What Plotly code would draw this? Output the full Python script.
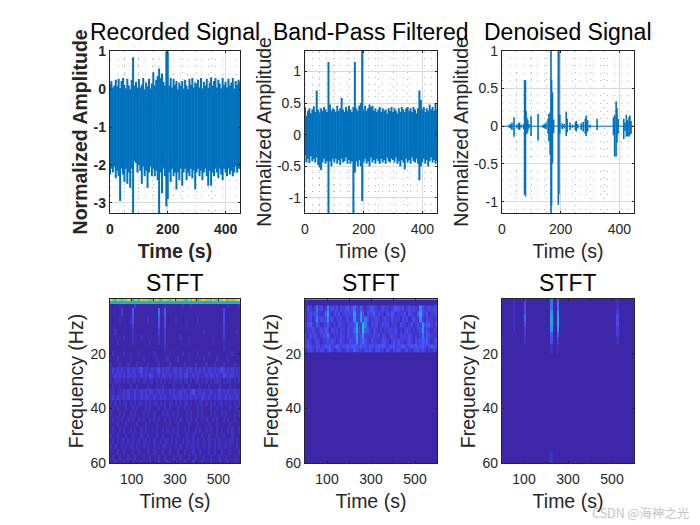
import plotly.graph_objects as go

# sampled envelope of the time signals, one value every 5 s
time_s = [0, 5, 10, 15, 20, 25, 30, 35, 40, 45,
          50, 55, 60, 65, 70, 75, 80, 85, 90, 95,
          100, 105, 110, 115, 120, 125, 130, 135, 140, 145,
          150, 155, 160, 165, 170, 175, 180, 185, 190, 195,
          200, 205, 210, 215, 220, 225, 230, 235, 240, 245,
          250, 255, 260, 265, 270, 275, 280, 285, 290, 295,
          300, 305, 310, 315, 320, 325, 330, 335, 340, 345,
          350, 355, 360, 365, 370, 375, 380, 385, 390, 395,
          400, 405, 410, 415, 420, 425, 430, 435, 440, 445, 450]

recorded_hi = [.15, .22, .05, .1, .25, .08, .28, .03, .22, .3,
               .12, .02, .28, .1, .0, .25, .85, .1, .2, .05,
               .27, .05, .12, .3, .0, .18, .08, .28, .02, .15,
               .45, .1, .25, .35, .55, .3, .42, .2, .1, 1.0,
               1.0, .1, .3, .05, .28, .12, .22, .0, .18, .1,
               .22, .02, .25, .1, .0, .28, .12, .3, .05, .18,
               .15, .25, .05, .3, .02, .2, .1, .28, .04, .18,
               .32, .1, .22, .3, .05, .25, .15, .02, .3, .12,
               .2, .05, .28, .1, .18, .3, .02, .22, .12, .25, .2]
recorded_lo = [-2.25, -2.1, -2.2, -2.05, -2.35, -2.15, -2.3, -2.95, -2.1, -2.25,
               -2.45, -2.1, -2.5, -2.2, -2.6, -2.1, -3.27, -1.9, -1.95, -2.2,
               -2.0, -2.15, -2.5, -2.05, -2.3, -2.15, -2.6, -2.2, -2.05, -2.3,
               -2.1, -2.3, -2.15, -2.4, -3.27, -2.2, -2.75, -2.1, -2.3, -3.1,
               -2.9, -2.2, -2.45, -2.1, -2.3, -2.2, -2.65, -2.2, -2.4, -2.1,
               -2.55, -2.2, -2.1, -2.4, -2.2, -2.3, -2.1, -2.35, -2.15, -2.65,
               -2.2, -2.1, -2.3, -2.15, -2.4, -2.2, -2.1, -2.3, -2.55, -2.15,
               -2.55, -2.2, -2.3, -2.1, -2.2, -2.35, -2.1, -2.25, -2.4, -2.1,
               -2.2, -2.3, -2.1, -2.25, -2.15, -2.3, -2.2, -2.05, -2.2, -2.1, -2.1]

bandpass_hi = [.44, .3, .38, .42, .34, .4, .45, .36, .7, .4,
               .35, .42, .38, .44, .4, .36, 1.15, .48, .38, .42,
               .4, .36, .46, .38, .42, .58, .4, .36, .44, .38,
               .46, .4, .36, .44, 1.15, .42, .38, .46, .5, 1.33,
               .4, .46, .38, .42, .48, .44, .46, .38, .42, .36,
               .4, .44, .36, .42, .38, .4, .34, .42, .38, .44,
               .36, .42, .38, .34, .42, .36, .44, .4, .36, .42,
               .44, .38, .42, .36, .44, .4, .34, .42, .7, .55,
               .4, .44, .36, .42, .38, .48, .4, .44, .38, .5, .4]
bandpass_lo = [-.33, -.44, -.38, -.45, -.34, -.42, -.38, -.44, -.36, -.48,
               -.52, -.56, -.44, -.38, -.46, -.42, -1.24, -.42, -.5, -.38,
               -.44, -.38, -.46, -.4, -.48, -.38, -.44, -.42, -.36, -.46,
               -.4, -.46, -.42, -1.24, -.6, -.42, -.5, -.4, -.5, -1.05,
               -.44, -.38, -.46, -.42, -.5, -.36, -.44, -.4, -.46, -.38,
               -.42, -.46, -.38, -.44, -.4, -.46, -.36, -.42, -.44, -.38,
               -.4, -.44, -.36, -.46, -.42, -.5, -.4, -.44, -.55, -.38,
               -.44, -.4, -.46, -.36, -.42, -.44, -.38, -.46, -.72, -.5,
               -.44, -.38, -.46, -.4, -.5, -.42, -.36, -.44, -.4, -.46, -.42]

# denoised signal is mostly flat, so only the bursts are listed
denoised_t = [0, 25, 30, 34, 41, 50, 56, 60, 66, 74, 77, 80, 82, 85, 88, 92, 99, 123,
              140, 145, 150, 157, 160, 164, 167, 169, 172, 176, 192, 194, 197, 205,
              212, 219, 222, 232, 240, 250, 253, 258, 270, 277, 284, 287, 292, 300,
              324, 380, 384, 389, 392, 396, 415, 419, 424, 428, 433, 436, 440, 450]
denoised_hi = [0, .02, .03, .05, .12, .02, .04, .05, .02, .03, .61, .61, .2, .11, .08, .03, .13, .16,
               .02, .03, .05, .1, .16, .18, 1.0, .62, .45, .09, 1.0, 1.0, .15, .04,
               .03, .19, .1, .05, .02, .05, .07, .03, .04, .06, .1, .14, .08, .02,
               .1, .12, .15, .33, .24, .1, .1, .05, .15, .08, .12, .14, .07, 0]
denoised_lo = [0, -.02, -.03, -.05, -.14, -.02, -.04, -.05, -.02, -.04, -.9, -.93, -.1, -.1, -.07, -.03, -.13, -.19,
               -.02, -.03, -.04, -.1, -.2, -.38, -1.15, -1.05, -.49, -.09, -1.04, -.9, -.1, -.04,
               -.03, -.13, -.08, -.05, -.02, -.05, -.07, -.03, -.05, -.07, -.1, -.13, -.07, -.02,
               -.05, -.12, -.4, -.4, -.22, -.1, -.17, -.06, -.14, -.13, -.14, -.12, -.1, 0]

# STFT magnitudes, one character per cell (base 36), columns are 10 s wide
stft_t = [5, 15, 25, 35, 45, 55, 65, 75, 85, 95, 105, 115, 125, 135, 145,
          155, 165, 175, 185, 195, 205, 215, 225, 235, 245, 255, 265, 275, 285, 295,
          305, 315, 325, 335, 345, 355, 365, 375, 385, 395, 405, 415, 425, 435, 445,
          455, 465, 475, 485, 495, 505, 515, 525, 535, 545, 555, 565, 575, 585, 595]
stft_f = [0.45, 1.35, 2.35, 4.5, 8, 10, 12, 14, 16, 18, 20, 22, 24, 26, 28, 30, 32, 34, 36, 38,
          40, 42, 44, 46, 48, 50, 52, 54, 56, 58, 60]

recorded_stft = [
    "pjfqkhlkrmgjlfqkpkhjmqjflpkhjsklpkgfojqkhjprlkgqkjplskhojmqr",
    "cbcbcdcbcbccbcccbcbcdcbcbcccbccbcccbcbcbcbccbcccbcbcbcbccbcc",
    "000010000002000000000000010000000100010000000000000000100001",
    "000002000040000000000050040000000000000000000000000030000000",
    "000010000130000001000040030000100000000010000000000030000000",
    "000000000020000000000030030000000001000000000000000020000000",
    "001000000010000000000020020000000000000000010000000020000010",
    "000000100010001000000010020000001000000000000000000020000000",
    "000100000010000000100010020000000000100000000001000010000000",
    "000000000000000000000000010000000000000000000000000010000000",
    "010000100000010000001000000100000100000010000100000000001000",
    "000100000100000100000100001000010000100000010000010000100000",
    "100010001000100001000010000100000010000100001000100010000100",
    "121212112122123121121231212112212112121212121221212321212121",
    "112121212212112121321121221211212123112121112122121132122111",
    "101110101011010110110101010101101011010110101010111010110101",
    "010010000100100001000100100001000100100001000100001000010000",
    "110111212112112121221121211212112121123112121121112121211211",
    "121211212112112122112112121112212112121211221211212112121121",
    "101010110101011010101101010110101011010101101010101101010101",
    "010100010010100010100010010100010010100010100010010100010010",
    "100010100101000101001000101001010001010010100010100101000101",
    "010101001010010100101010010100101001010100101001010010100100",
    "000100010000100010000100000100010000100010000100010000010000",
    "010010100101001010010100101001010010100101001010010100101001",
    "100100010010001001000100100010010001001000100100010010001000",
    "010101101010010110101001011010100101101010010110101001011010",
    "101001010110100101001010110100101001011010010100101011010010",
    "000100100010010001001000100100010010001001000100100100010001",
    "010010001001000100100010010001001000100100010010001001000100",
    "001000100010001000100010001000100010001000100010001000100010",
]

bandpass_stft = [
    "000000000000000000000000000000000000000000000000000000000000",
    "132125231262323132342352242123432123221234323123232163223233",
    "123234212492132312323292274132342322132431222313221 4a3231223".replace(" ", ""),
    "123126232372312231231262283531223212321322213231232172132212",
    "234214212242121322123 23b22e6213".replace(" ", "") + "23123231222132212312" + "3283442132",
    "122321232431323132132 24a32f4321".replace(" ", "") + "32121223223121232121" + "2372321221",
    "213232123352122132132237237222232313212322132323212125243212",
    "232123212232321232123328235321322123321232322123213234342123",
    "343223323434234323343443343323423434323342334323434334323433",
    "123213232134212321232243221323213322132132321232123323212132",
    "000000000000000000000000000000000000000000000000000000000000",
    "000000000000000000000000000000000000000000000000000000000000",
]
bandpass_f = [1.25, 3.5, 5.5, 7.5, 9.5, 11.5, 13.5, 15.5, 17.5, 18.5, 20.5, 60]

denoised_stft = [
    "000001000030000000000050050000000000000000000000000010000000",
    "000001000030000000000050050000000000000000000000000010000000",
    "000001000030000000000070070000000000000000000000000020000000",
    "000001000050000000000090090000000000000000000000000030000000",
    "000001000030000000000090090000000000000000000000000030000000",
    "000001000020000000000070070000000000000000000000000020000000",
    "000000000020000000000040040000000000000000000000000020000000",
    "000000000010000000000030020000000000000000000000000010000000",
    "000000000000000000000010010000000000000000000000000000000000",
    "000000000000000000000000000000000000000000000000000000000000",
    "000000000000000000000000000000000000000000000000000000000000",
    "000000000000000000000010000000000000000000000000000000000000",
]
denoised_f = [1, 3, 5, 7, 9, 11, 13, 15, 18, 22, 52, 60]

stft_ticks = [100, 200, 300, 400, 500]
stft_tick_text = ["100", "", "300", "", "500"]
freq_ticks = [20, 40, 60]
y_ticks = [[-3, -2, -1, 0, 1], [-1, -0.5, 0, 0.5, 1], [-1, -0.5, 0, 0.5, 1]]
y_tick_text = [["-3", "-2", "-1", "0", "1"], ["-1", "-0.5", "0", "0.5", "1"], ["-1", "-0.5", "0", "0.5", "1"]]

titles = ["Recorded Signal", "Band-Pass Filtered", "Denoised Signal", "STFT", "STFT", "STFT"]

FONT = "Liberation Sans"
BLUE = "#0072BD"
INK = "#262626"
parula = [[0, "#3E26A8"], [.1, "#4748F0"], [.2, "#2F85F5"], [.3, "#1FA8E0"], [.4, "#0FBAC8"],
          [.5, "#2BC2A0"], [.6, "#74C978"], [.7, "#BABF55"], [.8, "#F0B93A"], [.9, "#FCD22E"],
          [1, "#F9FB15"]]

# axes boxes, in pixels of the 700x525 page
left = [[110, 240], [305, 437], [502, 634]]
top_row = [1 - 213 / 525, 1 - 50.7 / 525]
bottom_row = [1 - 463 / 525, 1 - 299 / 525]


def spikes(t, hi, lo):
    xs, ys = [], []
    for a, b, c in zip(t, hi, lo):
        xs += [a, a, None]
        ys += [b, c, None]
    return xs, ys


def digits(rows):
    return [[int(c, 36) for c in r] for r in rows]


fig = go.Figure()

signals = [(time_s, recorded_hi, recorded_lo), (time_s, bandpass_hi, bandpass_lo),
           (denoised_t, denoised_hi, denoised_lo)]
widths = [2, 2, 1.6]
for i, (t, hi, lo) in enumerate(signals):
    xs, ys = spikes(t, hi, lo)
    fig.add_trace(go.Scatter(x=xs, y=ys, mode="lines", line=dict(color=BLUE, width=widths[i]),
                             xaxis=f"x{i + 1}", yaxis=f"y{i + 1}", showlegend=False))
fig.add_trace(go.Scatter(x=[0, 450], y=[0, 0], mode="lines", line=dict(color=BLUE, width=1),
                         xaxis="x3", yaxis="y3", showlegend=False))

heat = [(recorded_stft, stft_f), (bandpass_stft, bandpass_f), (denoised_stft, denoised_f)]
for i, (rows, f) in enumerate(heat):
    fig.add_trace(go.Heatmap(x=stft_t, y=f, z=digits(rows), zmin=0, zmax=30, colorscale=parula,
                             showscale=False, xaxis=f"x{i + 4}", yaxis=f"y{i + 4}"))

y_ranges = [[-3.27, 1.02], [-1.24, 1.33], [-1.15, 1.0]]
y_minor = [0.2, 0.1, 0.1]
axis_common = dict(showline=True, linecolor=INK, linewidth=1.3, mirror="allticks", ticks="inside",
                   ticklen=2, tickcolor=INK, zeroline=False, layer="above traces", automargin=False)
layout = {}
for i in range(3):
    weight = "bold" if i == 0 else "normal"
    tick_font = dict(family=FONT, size=14, color=INK, weight=weight)
    label_font = dict(family=FONT, size=19.5, color=INK, weight=weight)
    grid = dict(showgrid=True, gridcolor="#dadada", gridwidth=1)
    layout[f"xaxis{i + 1}"] = dict(
        domain=[left[i][0] / 700, left[i][1] / 700], range=[0, 450], anchor=f"y{i + 1}",
        tickvals=[0, 200, 400], tickfont=tick_font, ticklabelstandoff=3,
        title=dict(text="Time (s)", font=label_font, standoff=8),
        minor=dict(dtick=50, tick0=0, showgrid=True, gridcolor="#b5b5b5", griddash="1px,6px", ticks=""),
        **grid, **axis_common)
    layout[f"yaxis{i + 1}"] = dict(
        domain=top_row, range=y_ranges[i], anchor=f"x{i + 1}",
        tickvals=y_ticks[i], ticktext=y_tick_text[i], tickfont=tick_font,
        title=dict(text="Normalized Amplitude", font=label_font, standoff=0),
        minor=dict(dtick=y_minor[i], tick0=0, showgrid=True, gridcolor="#b5b5b5", griddash="1px,6px", ticks=""),
        **grid, **axis_common)
    tick_font = dict(family=FONT, size=14, color=INK)
    label_font = dict(family=FONT, size=19.5, color=INK)
    layout[f"xaxis{i + 4}"] = dict(
        domain=[left[i][0] / 700, left[i][1] / 700], range=[0, 600], anchor=f"y{i + 4}",
        tickvals=stft_ticks, ticktext=stft_tick_text, tickfont=tick_font, showgrid=False,
        ticklabelstandoff=3, title=dict(text="Time (s)", font=label_font, standoff=8), **axis_common)
    layout[f"yaxis{i + 4}"] = dict(
        domain=bottom_row, range=[60, 0], anchor=f"x{i + 4}",
        tickvals=freq_ticks, tickfont=tick_font, showgrid=False,
        title=dict(text="Frequency (Hz)", font=label_font, standoff=1), **axis_common)

notes = []
for i, text in enumerate(titles):
    col = i % 3
    notes.append(dict(text=text, xref="paper", yref="paper", showarrow=False,
                      xanchor="center", yanchor="middle",
                      x=sum(left[col]) / 2 / 700, y=1 - (32 if i < 3 else 283) / 525,
                      font=dict(family=FONT, size=23, color="#000000")))
notes.append(dict(text="CSDN @海神之光", xref="paper", yref="paper", showarrow=False,
                  xanchor="center", yanchor="middle", x=640 / 700, y=1 - 512 / 525,
                  font=dict(family="Noto Sans CJK SC", size=12.5, color="#c4c4c4")))

fig.update_layout(width=700, height=525, margin=dict(l=0, r=0, t=0, b=0), paper_bgcolor="white",
                  plot_bgcolor="white", showlegend=False, annotations=notes, **layout)

fig.write_html("out.html", config=dict(displayModeBar=False),
               post_script="document.body.style.margin='0';")
